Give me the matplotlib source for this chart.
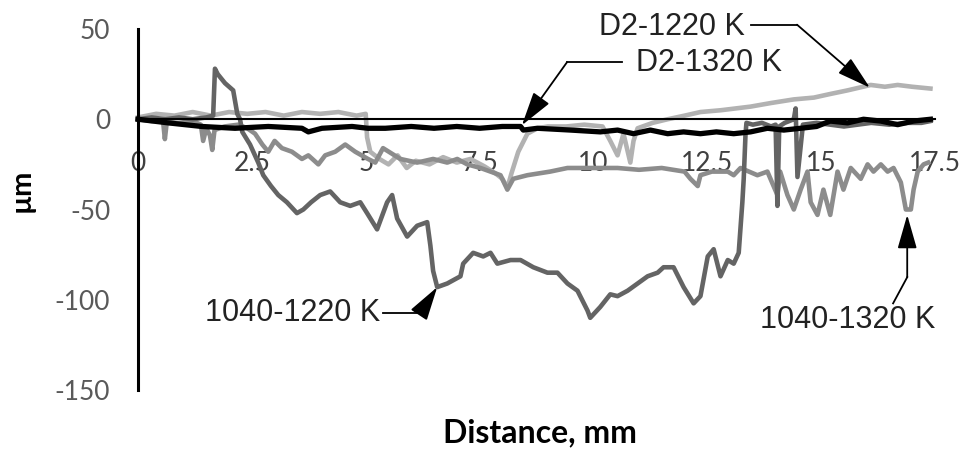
import numpy as np
import matplotlib
matplotlib.use('Agg')
import matplotlib.pyplot as plt

plt.rcParams['axes.unicode_minus'] = False

# tick values / labels
x_ticks = [0, 2.5, 5, 7.5, 10, 12.5, 15, 17.5]
x_tick_labels = ['0', '2.5', '5', '7.5', '10', '12.5', '15', '17.5']
y_ticks = [50, 0, -50, -100, -150]

# profile traces: (distance mm, height um)
d2_1220 = [(0, 1), (0.4, 3), (0.8, 2), (1.2, 4), (1.6, 2), (2.0, 4), (2.4, 3), (2.8, 4),
           (3.2, 2), (3.6, 4), (4.0, 3), (4.4, 4), (4.8, 2), (5.0, 3), (5.03, -10),
           (5.1, -18), (5.3, -22), (5.5, -25), (5.7, -20), (5.9, -27), (6.1, -23),
           (6.4, -25), (6.7, -21), (7.0, -24), (7.3, -22), (7.6, -26), (7.85, -30),
           (8.0, -33), (8.11, -38), (8.2, -30), (8.35, -18), (8.55, -8), (8.77, -5),
           (9.0, -4), (9.4, -4), (9.8, -3), (10.2, -4), (10.37, -12), (10.53, -20),
           (10.66, -8), (10.81, -24), (10.88, -12), (10.97, -5), (11.3, -2), (11.63, 0),
           (12.0, 2), (12.35, 4), (12.8, 5), (13.45, 7), (13.9, 9), (14.4, 11),
           (14.84, 12), (15.2, 14), (15.58, 16), (16.09, 19), (16.4, 18), (16.68, 19),
           (17.0, 18), (17.4, 17)]

d2_1320 = [(0, 0), (0.66, -2), (1.4, -4), (2.13, -5), (2.86, -4), (3.6, -5), (3.74, -7),
           (4.04, -5), (4.7, -4), (5.05, -5), (5.43, -5), (6.0, -4), (6.5, -5), (7.0, -4),
           (7.5, -5), (8.0, -4), (8.4, -4), (8.46, -6), (8.77, -5), (9.5, -6), (10.15, -7),
           (10.53, -6), (10.88, -8), (11.25, -6), (11.63, -8), (11.98, -7), (12.35, -8),
           (12.7, -7), (13.08, -8), (13.45, -7), (13.82, -5), (14.18, -6), (14.55, -5),
           (14.9, -4), (15.2, -1), (15.58, -2), (15.93, 0), (16.31, -1), (16.68, -3),
           (17.03, -1), (17.4, 0)]

s1040_1220 = [(0, 0), (0.3, 1), (0.6, 0), (0.9, 1), (1.2, 0), (1.5, 1), (1.65, 2), (1.69, 28),
              (1.75, 25), (1.91, 20), (2.09, 16), (2.18, 3), (2.24, 0), (2.29, -7), (2.46, -14),
              (2.64, -24), (2.75, -31), (2.92, -37), (3.08, -42), (3.27, -46), (3.49, -52),
              (3.63, -50), (3.8, -46), (4.0, -42), (4.22, -40), (4.44, -46), (4.66, -48),
              (4.88, -46), (5.03, -52), (5.25, -61), (5.47, -46), (5.58, -42), (5.69, -55),
              (5.91, -65), (6.13, -59), (6.35, -57), (6.42, -70), (6.48, -84), (6.57, -93),
              (6.79, -91), (7.08, -87), (7.14, -80), (7.36, -74), (7.58, -76), (7.74, -74),
              (7.89, -80), (8.18, -78), (8.4, -78), (8.68, -82), (8.99, -85), (9.21, -85),
              (9.43, -91), (9.65, -95), (9.87, -106), (9.93, -110), (10.15, -104),
              (10.37, -97), (10.53, -98), (10.75, -95), (10.97, -91), (11.19, -87),
              (11.41, -85), (11.54, -82), (11.76, -82), (11.98, -93), (12.2, -102),
              (12.35, -98), (12.51, -76), (12.64, -72), (12.79, -87), (12.95, -78),
              (13.08, -80), (13.19, -74), (13.27, -46), (13.3, -33), (13.34, -8),
              (13.36, -2), (13.5, -3), (13.7, -2), (13.9, -4), (14.0, -3), (14.04, -48),
              (14.08, -4), (14.2, -2), (14.4, 0), (14.44, 6), (14.48, -32), (14.6, -3),
              (14.9, -2), (15.2, -3), (15.5, -4), (15.8, -3), (16.1, -2), (16.5, -3),
              (16.9, -2), (17.2, -2), (17.4, -1)]

s1040_1320 = [(0, 0), (0.3, -1), (0.55, -1), (0.59, -11), (0.63, -2), (0.9, -2), (1.2, -1),
              (1.38, -3), (1.43, -12), (1.5, -5), (1.58, -9), (1.63, -17), (1.68, -6),
              (1.9, -4), (2.2, -3), (2.4, -5), (2.57, -8), (2.73, -14), (2.86, -18),
              (3.0, -12), (3.16, -16), (3.38, -18), (3.6, -22), (3.74, -20), (3.96, -25),
              (4.11, -20), (4.33, -18), (4.55, -14), (4.77, -18), (5.05, -22), (5.21, -24),
              (5.38, -16), (5.76, -22), (6.13, -24), (6.48, -22), (6.79, -24), (7.01, -22),
              (7.23, -25), (7.52, -27), (7.74, -29), (7.96, -31), (8.11, -39), (8.24, -33),
              (8.55, -31), (9.05, -29), (9.43, -27), (9.78, -27), (10.15, -27), (10.53, -27),
              (11.0, -28), (11.5, -27), (12.0, -29), (12.13, -33), (12.29, -37), (12.35, -31),
              (12.6, -29), (12.95, -29), (13.08, -31), (13.23, -27), (13.6, -31), (13.82, -29),
              (14.04, -42), (14.1, -29), (14.26, -42), (14.4, -50), (14.55, -39), (14.7, -29),
              (14.77, -46), (14.92, -53), (15.05, -39), (15.2, -53), (15.36, -29), (15.49, -39),
              (15.65, -27), (15.87, -33), (16.02, -25), (16.15, -29), (16.31, -25),
              (16.46, -29), (16.59, -27), (16.75, -35), (16.86, -50), (16.97, -50),
              (17.03, -39), (17.12, -29), (17.25, -25), (17.35, -24)]

fig = plt.figure(figsize=(9.6, 4.58), dpi=100)
ax = fig.add_axes([138 / 960, 1 - 390 / 458, 797 / 960, 361 / 458])

for pts, col, lw in [(d2_1220, '#b2b2b2', 3.3), (s1040_1320, '#8c8c8c', 3.3),
                     (s1040_1220, '#646464', 3.3), (d2_1320, '#000000', 3.8)]:
    xy = np.array(pts)
    ax.plot(xy[:, 0], xy[:, 1], color=col, lw=lw, solid_joinstyle='round', clip_on=False)

ax.set_xlim(0, 17.5)
ax.set_ylim(-150, 50)
ax.set_xticks(x_ticks)
ax.set_xticklabels(x_tick_labels)
ax.set_yticks(y_ticks)

for s in ['top', 'right']:
    ax.spines[s].set_visible(False)
ax.spines['bottom'].set_position(('data', 0))
ax.spines['bottom'].set_linewidth(1.5)
ax.spines['bottom'].set_zorder(5)
ax.spines['left'].set_linewidth(2.2)
ax.tick_params(axis='x', length=0, pad=23, labelsize=19, labelcolor='#404040')
ax.tick_params(axis='y', length=0, pad=20, labelsize=19, labelcolor='#595959')
for lab in ax.get_xticklabels() + ax.get_yticklabels():
    lab.set_fontfamily('Lato')

fig.text(22 / 960, 1 - 190 / 458, 'µm', rotation=90, ha='center', va='center',
         fontsize=21, fontweight='bold', family='Lato')
fig.text(540 / 960, 1 - 433 / 458, 'Distance, mm', ha='center', va='center',
         fontsize=23, fontweight='bold', family='Lato')

# call-out labels with arrows
arrow = dict(arrowstyle='-|>,head_length=1.4,head_width=0.4', mutation_scale=15,
             lw=1.3, color='black', shrinkA=0, shrinkB=0)
callouts = [
    ('D2-1220 K', (13.33, 51.0), 'right', [(13.45, 52.4), (14.47, 52.4)], (16.07, 17.5)),
    ('D2-1320 K', (10.94, 31.0), 'left', [(10.63, 31.6), (9.42, 31.6)], (8.43, -3.3)),
    ('1040-1220 K', (5.31, -107.5), 'right', [(5.38, -107.5), (6.19, -107.5)], (6.57, -93)),
    ('1040-1320 K', (15.59, -111.4), 'center', [(16.58, -102), (16.89, -87.5)], (16.89, -53)),
]
for txt, pos, ha, path, tip in callouts:
    ax.text(pos[0], pos[1], txt, ha=ha, va='center', fontsize=22, color='#222222',
            family='Liberation Sans', clip_on=False)
    p = np.array(path)
    ax.plot(p[:, 0], p[:, 1], color='black', lw=1.3, clip_on=False)
    ax.annotate('', xy=tip, xytext=path[-1], arrowprops=arrow, annotation_clip=False)

fig.savefig('out.png', dpi=100)
